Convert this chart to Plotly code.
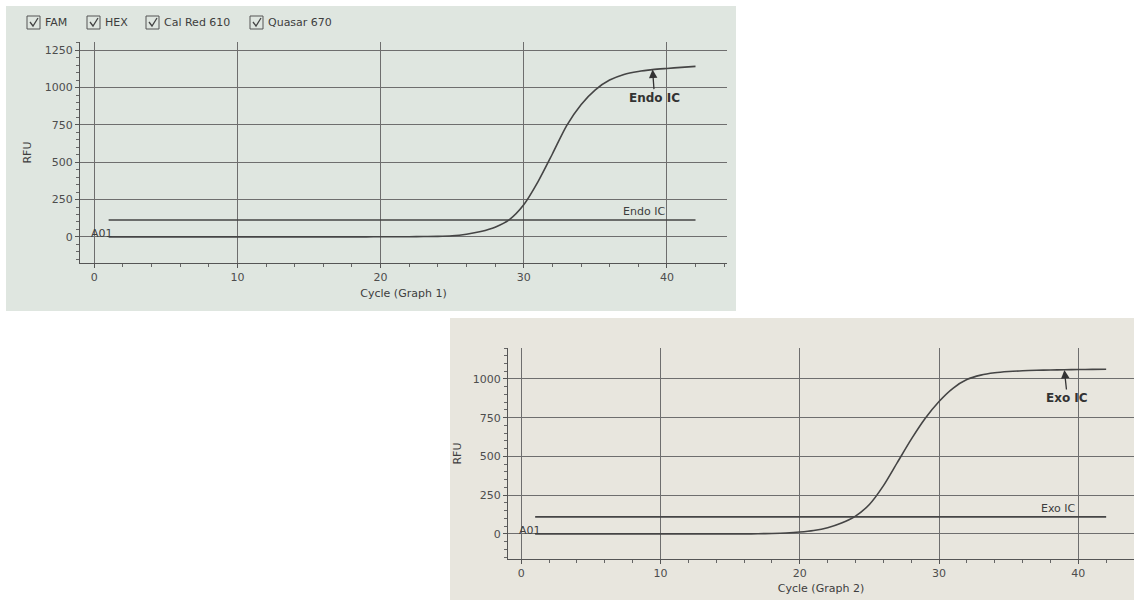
import plotly.graph_objects as go

# ---------------- data ----------------
cycles = list(range(1, 43))
endo_rfu = [0, 0, 0, 0, 0, 0, 0, 0, 0, 0,
            0, 0, 0, 0, 0, 0, 0, 0, 0, 1,
            1, 1, 2, 3, 7, 18, 36, 65, 116, 215,
            370, 555, 745, 885, 985, 1050, 1088, 1108, 1120, 1128,
            1135, 1142]
exo_rfu = [0, 0, 0, 0, 0, 0, 0, 0, 0, 0,
           0, 0, 0, 0, 0, 0, 1, 3, 6, 12,
           22, 40, 70, 115, 190, 310, 460, 610, 745, 855,
           940, 996, 1025, 1040, 1048, 1053, 1056, 1058, 1060, 1061,
           1062, 1063]
endo_threshold = 113
exo_threshold = 110
threshold_span = [cycles[0], cycles[-1]]
x_ticks = [0, 10, 20, 30, 40]
y_ticks_top = [0, 250, 500, 750, 1000, 1250]
y_ticks_bottom = [0, 250, 500, 750, 1000]
channels = ["FAM", "HEX", "Cal Red 610", "Quasar 670"]

W, H = 1134, 600
def px(x):
    return x / W
def py(y):
    return 1 - y / H

LINE = "#454545"
GRID = "#6e6e6e"
TXT = "#4d4d4d"
FONT = "DejaVu Sans"

fig = go.Figure()

# curves
fig.add_trace(go.Scatter(x=cycles, y=endo_rfu, mode="lines",
                         line=dict(color=LINE, width=1.6, shape="spline", smoothing=0.8),
                         xaxis="x", yaxis="y", showlegend=False))
fig.add_trace(go.Scatter(x=threshold_span, y=[endo_threshold] * 2, mode="lines",
                         line=dict(color=LINE, width=1.6), xaxis="x", yaxis="y", showlegend=False))
fig.add_trace(go.Scatter(x=cycles, y=exo_rfu, mode="lines",
                         line=dict(color=LINE, width=1.6, shape="spline", smoothing=0.8),
                         xaxis="x2", yaxis="y2", showlegend=False))
fig.add_trace(go.Scatter(x=threshold_span, y=[exo_threshold] * 2, mode="lines",
                         line=dict(color=LINE, width=1.6), xaxis="x2", yaxis="y2", showlegend=False))

axis_common = dict(
    showline=True, linecolor="#555", linewidth=1.2,
    showgrid=True, gridcolor=GRID, gridwidth=1,
    zeroline=False, ticks="outside", ticklen=4, tickcolor="#555",
    tickfont=dict(family=FONT, size=11, color=TXT),
)

shapes = [
    # photo backgrounds
    dict(type="rect", xref="paper", yref="paper", x0=px(6), x1=px(736), y0=py(311), y1=py(6),
         fillcolor="#dfe6e0", line=dict(width=0), layer="below"),
    dict(type="rect", xref="paper", yref="paper", x0=px(450), x1=px(1134), y0=py(600), y1=py(318),
         fillcolor="#e8e6de", line=dict(width=0), layer="below"),
]

annotations = []
# channel checkboxes
box_x = [27, 87, 146, 250]
for bx, name in zip(box_x, channels):
    shapes.append(dict(type="rect", xref="paper", yref="paper", x0=px(bx), x1=px(bx + 13),
                       y0=py(29), y1=py(16), line=dict(color="#555", width=1), fillcolor="rgba(0,0,0,0)"))
    shapes.append(dict(type="path", xref="paper", yref="paper",
                       path=f"M {px(bx+3)} {py(22)} L {px(bx+6)} {py(26)} L {px(bx+11)} {py(18)}",
                       line=dict(color="#444", width=1.3)))
    annotations.append(dict(xref="paper", yref="paper", x=px(bx + 16), y=py(22.5), text=name,
                            showarrow=False, xanchor="left", yanchor="middle",
                            font=dict(family=FONT, size=11, color="#3d3d3d")))

# chart annotations
annotations += [
    dict(xref="x", yref="y", x=39, y=1120, ax=2, ay=28, text="<b>Endo IC</b>", showarrow=True,
         arrowhead=2, arrowsize=1.3, arrowwidth=1.3, arrowcolor="#333", standoff=0,
         font=dict(family=FONT, size=12, color="#333")),
    dict(xref="x", yref="y", x=40, y=endo_threshold, text="Endo IC", showarrow=False,
         xanchor="right", yanchor="bottom", font=dict(family=FONT, size=11, color="#3d3d3d")),
    dict(xref="x", yref="y", x=-0.4, y=25, text="A01", showarrow=False,
         xanchor="left", yanchor="middle", font=dict(family=FONT, size=11, color="#3d3d3d")),
    dict(xref="x2", yref="y2", x=39, y=1058, ax=3, ay=28, text="<b>Exo IC</b>", showarrow=True,
         arrowhead=2, arrowsize=1.3, arrowwidth=1.3, arrowcolor="#333", standoff=0,
         font=dict(family=FONT, size=12, color="#333")),
    dict(xref="x2", yref="y2", x=40, y=exo_threshold, text="Exo IC", showarrow=False,
         xanchor="right", yanchor="bottom", font=dict(family=FONT, size=11, color="#3d3d3d")),
    dict(xref="x2", yref="y2", x=-0.3, y=20, text="A01", showarrow=False,
         xanchor="left", yanchor="middle", font=dict(family=FONT, size=11, color="#3d3d3d")),
]

fig.update_layout(
    width=W, height=H,
    margin=dict(l=0, r=0, t=0, b=0),
    paper_bgcolor="white", plot_bgcolor="rgba(0,0,0,0)",
    xaxis=dict(axis_common, domain=[px(80), px(727)], range=[-1, 44.2], tickvals=x_ticks,
               anchor="y", minor=dict(dtick=2, ticklen=3, tickcolor="#666", showgrid=False),
               title=dict(text="Cycle (Graph 1)", font=dict(family=FONT, size=11, color="#3d3d3d"),
                          standoff=6)),
    yaxis=dict(axis_common, domain=[py(263), py(42)], range=[-175, 1305], tickvals=y_ticks_top,
               anchor="x", minor=dict(dtick=50, ticklen=3, tickcolor="#666", showgrid=False),
               title=dict(text="RFU", font=dict(family=FONT, size=11, color="#3d3d3d"), standoff=10)),
    xaxis2=dict(axis_common, domain=[px(508), 1.0], range=[-0.95, 44.0], tickvals=x_ticks,
                anchor="y2", minor=dict(dtick=2, ticklen=3, tickcolor="#666", showgrid=False),
                title=dict(text="Cycle (Graph 2)", font=dict(family=FONT, size=11, color="#3d3d3d"),
                           standoff=5)),
    yaxis2=dict(axis_common, domain=[py(559), py(348)], range=[-162, 1200], tickvals=y_ticks_bottom,
                anchor="x2", minor=dict(dtick=50, ticklen=3, tickcolor="#666", showgrid=False),
                title=dict(text="RFU", font=dict(family=FONT, size=11, color="#3d3d3d"), standoff=8)),
    shapes=shapes,
    annotations=annotations,
)

fig.write_html("out.html", config={"displayModeBar": False},
               post_script="document.body.style.margin='0px';")
